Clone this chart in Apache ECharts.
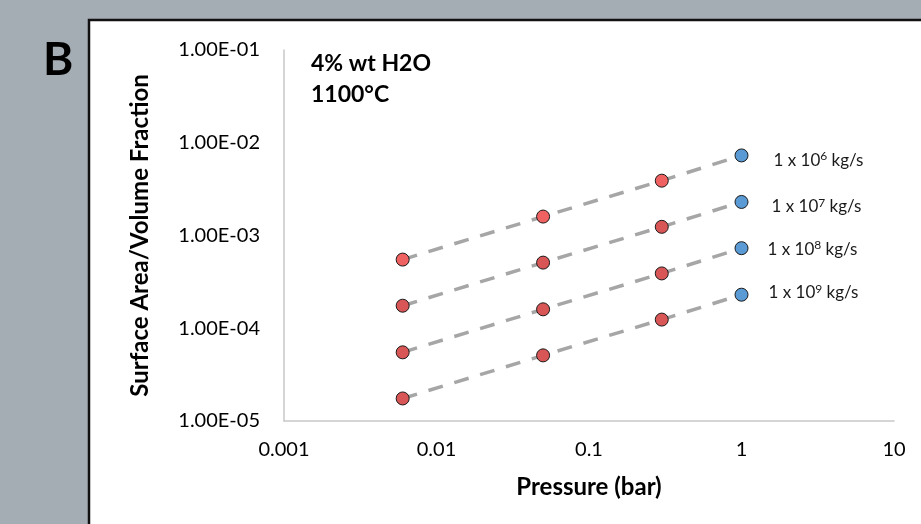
<!DOCTYPE html>
<html>
<head>
<meta charset="utf-8">
<script src="https://cdn.jsdelivr.net/npm/echarts@6/dist/echarts.min.js"></script>
<style>
  html, body { margin: 0; padding: 0; background: #a4acb4; }
  #chart { width: 921px; height: 524px; }
</style>
</head>
<body>
<div id="chart"></div>
<script>
// pressure (bar) on the x axis
const pressures = [0.006, 0.05, 0.3, 1]
// surface area / volume fraction for each mass eruption rate
const sa1e6 = [5.5e-4, 1.6e-3, 3.9e-3, 7.3e-3]
const sa1e7 = [1.75e-4, 5.1e-4, 1.24e-3, 2.3e-3]
const sa1e8 = [5.5e-5, 1.6e-4, 3.9e-4, 7.3e-4]
const sa1e9 = [1.75e-5, 5.1e-5, 1.24e-4, 2.3e-4]
const rateExponents = ['6', '7', '8', '9']
const xTickLabels = ['0.001', '0.01', '0.1', '1', '10']
const yTickLabels = ['1.00E-05', '1.00E-04', '1.00E-03', '1.00E-02', '1.00E-01']

const FONT = 'Lato'
const rows = [sa1e6, sa1e7, sa1e8, sa1e9]
const redColors = ['#f06262', '#d95656', '#d95656', '#d95656']
const labelOffsets = [[6, 5], [4, 5], [0, 1], [1, -2]]

const series = rows.map((vals, r) => ({
  name: '1 x 10^' + rateExponents[r] + ' kg/s',
  type: 'line',
  symbol: 'circle',
  symbolSize: 13,
  lineStyle: { color: '#a6a6a6', width: 3.5, type: [15, 12] },
  data: vals.map((v, i) => {
    const last = i === vals.length - 1
    return {
      value: [pressures[i], v],
      itemStyle: {
        color: last ? '#5b9bd5' : redColors[r],
        borderColor: '#1a1a1a',
        borderWidth: 1
      },
      label: {
        show: last,
        position: 'right',
        distance: 19,
        offset: labelOffsets[r],
        formatter: '1 x 10{sup|' + rateExponents[r] + '} kg/s',
        fontFamily: FONT,
        fontSize: 17,
        color: '#1a1a1a',
        rich: {
          sup: { fontFamily: FONT, fontSize: 12, verticalAlign: 'bottom', padding: [0, 0, 8, 0], color: '#1a1a1a' }
        }
      }
    }
  }),
  z: 3
}))

const chart = echarts.init(document.getElementById('chart'))
chart.setOption({
  backgroundColor: 'transparent',
  animation: false,
  graphic: [
    {
      type: 'rect',
      z: -10,
      shape: { x: 89, y: 20, width: 900, height: 600 },
      style: { fill: '#ffffff', stroke: '#111111', lineWidth: 2.5 }
    },
    {
      type: 'text',
      left: 43, top: 37,
      style: { text: 'B', font: 'bold 46px ' + FONT, fill: '#000' }
    },
    {
      type: 'text',
      left: 311, top: 48,
      style: { text: '4% wt H2O\n1100°C', font: 'bold 23px ' + FONT, lineHeight: 31, fill: '#000' }
    }
  ],
  grid: { left: 284, top: 50, right: 27, bottom: 103 },
  xAxis: {
    type: 'log',
    logBase: 10,
    min: 0.001,
    max: 10,
    name: 'Pressure (bar)',
    nameLocation: 'middle',
    nameGap: 54,
    nameMoveOverlap: false,
    nameTextStyle: { fontFamily: FONT, fontWeight: 'bold', fontSize: 24, color: '#000' },
    axisLine: { lineStyle: { color: '#c8c8c8', width: 1.5 } },
    axisTick: { show: false },
    splitLine: { show: false },
    minorTick: { show: false },
    axisLabel: {
      margin: 19,
      fontFamily: FONT, fontSize: 20, color: '#000',
      formatter: (v, i) => xTickLabels[i]
    }
  },
  yAxis: {
    type: 'log',
    logBase: 10,
    min: 1e-5,
    max: 1e-1,
    name: 'Surface Area/Volume Fraction',
    nameLocation: 'middle',
    nameGap: 132,
    nameMoveOverlap: false,
    nameTextStyle: { fontFamily: FONT, fontWeight: 'bold', fontSize: 24, color: '#000' },
    axisLine: { show: true, lineStyle: { color: '#c8c8c8', width: 1.5 } },
    axisTick: { show: false },
    splitLine: { show: false },
    axisLabel: {
      margin: 24,
      fontFamily: FONT, fontSize: 20, color: '#000',
      formatter: (v, i) => yTickLabels[i]
    }
  },
  series: series
})
</script>
</body>
</html>
